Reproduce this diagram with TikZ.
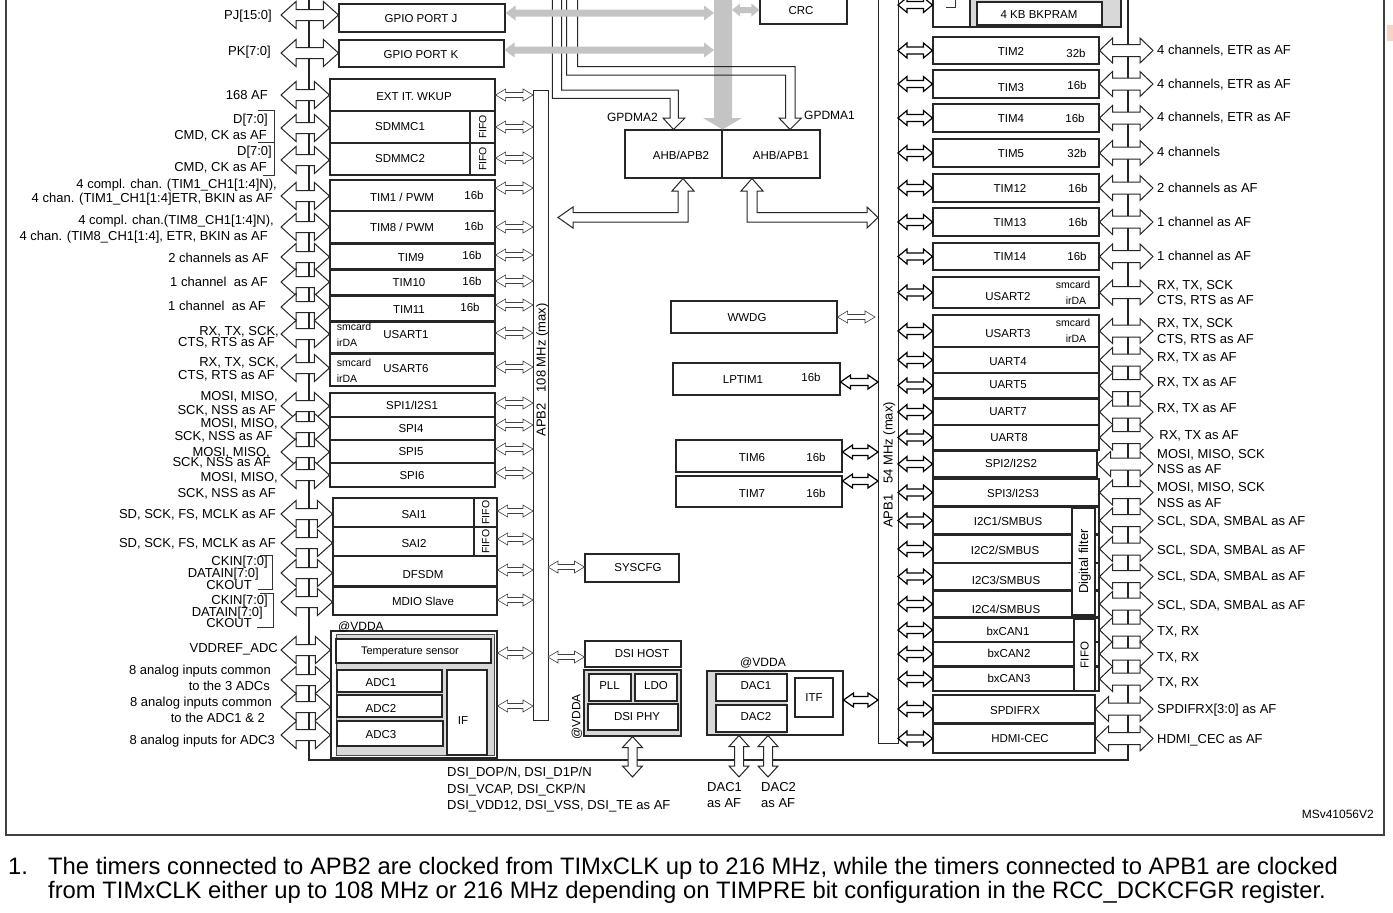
\documentclass[tikz,border=0pt]{standalone}
\usepackage{fontspec}
\setmainfont{Liberation Sans}
\usetikzlibrary{calc,positioning}

\definecolor{busgray}{HTML}{C4C4C4}
\definecolor{boxgray}{HTML}{D8D8D8}
\definecolor{markorange}{HTML}{F8D4C4}

\newcommand\lblfont{\fontsize{13}{14}\selectfont}
\newcommand\blkfont{\fontsize{11.5}{12}\selectfont}
\newcommand\midfont{\fontsize{12}{13}\selectfont}
\newcommand\smlfont{\fontsize{10.5}{11}\selectfont}
\newcommand\notefont{\fontsize{23.8}{25}\selectfont}

% a block given by its corners (picture units are pixels of the scan)
\newcommand\blk[6][]{%
  \node[blk,minimum width={((#5)-(#3))*1pt},minimum height={((#6)-(#4))*1pt},#1]
    (#2) at ({((#3)+(#5))/2},{((#4)+(#6))/2}) {};}

% hollow double arrow, left end (gives the height) to right end
% #4 head length, #5 half head, #6 half shaft
\newcommand\hdarr[6][]{%
  \path[#1] let \p1=(#2), \p2=(#3) in
    (\x1,\y1) -- (\x1+#4pt,\y1+#5pt) -- (\x1+#4pt,\y1+#6pt) -- (\x2-#4pt,\y1+#6pt)
    -- (\x2-#4pt,\y1+#5pt) -- (\x2,\y1) -- (\x2-#4pt,\y1-#5pt) -- (\x2-#4pt,\y1-#6pt)
    -- (\x1+#4pt,\y1-#6pt) -- (\x1+#4pt,\y1-#5pt) -- cycle;}
% same, upper end (gives the column) to lower end
\newcommand\vdarr[6][]{%
  \path[#1] let \p1=(#2), \p2=(#3) in
    (\x1,\y1) -- (\x1+#5pt,\y1-#4pt) -- (\x1+#6pt,\y1-#4pt) -- (\x1+#6pt,\y2+#4pt)
    -- (\x1+#5pt,\y2+#4pt) -- (\x1,\y2) -- (\x1-#5pt,\y2+#4pt) -- (\x1-#6pt,\y2+#4pt)
    -- (\x1-#6pt,\y1-#4pt) -- (\x1-#5pt,\y1-#4pt) -- cycle;}

\begin{document}
\begin{tikzpicture}[x=1pt,y=-1pt,line join=miter,
    blk/.style={draw=black!85,line width=1.1pt,fill=white,inner sep=0pt},
    gblk/.style={fill=boxgray},
    txt/.style={inner sep=0pt,font=\blkfont,text height=8.2pt,text depth=0pt},
    sml/.style={inner sep=0pt,font=\smlfont,text height=7.5pt,text depth=0pt},
    mid/.style={inner sep=0pt,font=\midfont,text height=8.6pt,text depth=0pt},
    lbl/.style={inner sep=0pt,font=\lblfont,text height=9.3pt,text depth=0pt},
    lbll/.style={lbl,anchor=east},
    lblr/.style={lbl,anchor=west},
    note/.style={inner sep=0pt,font=\notefont,anchor=base west},
    bigarr/.style={draw=black!85,line width=1pt,fill=white},
    thinarr/.style={draw=black!75,line width=.6pt,fill=white},
    boldarr/.style={draw=black,line width=1.2pt,fill=white},
    grayarr/.style={fill=busgray},
    bus/.style={draw=black!85,line width=1.8pt},
    dline/.style={draw=black!85,line width=1pt},
    brk/.style={draw=black!80,line width=.7pt},
    pageframe/.style={draw=black!75,line width=1.3pt},
  ]
\useasboundingbox (0,0) rectangle (1393,913);
\clip (0,0) rectangle (1393,913);
\fill[white] (0,0) rectangle (1393,913);

%------------------------------
% Frame, buses and bars
%------------------------------
\draw[pageframe] (6,-5) -- (6,835) -- (1384,835) -- (1384,-5);
\fill[markorange] (1387,25) rectangle (1393,41);
\draw[bus] (309,-5) -- (309,760) -- (1128,760) -- (1128,-5);
\blk[line width=.8pt]{apb2}{533}{90}{548}{720}
\blk[line width=.8pt]{apb1}{878}{-5}{898}{743}
\node[lbl,rotate=90] (apb2-t) at (541,370) {APB2\hspace{11pt}108 MHz (max)};
\node[lbl,rotate=90] (apb1-t) at (888,465) {APB1\hspace{11pt}54 MHz (max)};

%------------------------------
% AHB side: bridge, DMA, CRC
%------------------------------
\blk{ahb2}{625}{130}{722}{178}
\blk{ahb1}{722}{130}{820}{178}
\node[txt] (ahb2-t) at (681,155) {AHB/APB2};
\node[txt] (ahb1-t) at (781,155) {AHB/APB1};
\blk{crc}{760}{-5}{847}{24}
\node[txt] (crc-t) at (801,10) {CRC};

\fill[busgray] (714,-5) -- (714,118) -- (703,118) -- (ahb2.north east) -- (742,118) -- (732,118) -- (732,-5) -- cycle;

\coordinate (dma2tip) at (ahb2.north);
\coordinate (dma1tip) at ($(ahb1.north)+(19,0)$);
\draw[dline] (552.3,-5) |- (670,98.3) -- (670,118) -- (663,118) -- (dma2tip)
  -- (685,118) -- (678.3,118) |- (561.7,90) -- (561.7,-5);
\draw[dline] (566.7,-5) |- (785.7,75) -- (785.7,118) -- (779,118) -- (dma1tip)
  -- (801.5,118) -- (795,118) |- (577.7,66.7) -- (577.7,-5);
\node[mid,anchor=east] (dma2-t) at (658,117) {GPDMA2};
\node[mid,anchor=west] (dma1-t) at (804,115) {GPDMA1};

\coordinate (b2tip) at ($(ahb2.south)+(9.5,0)$);
\coordinate (b1tip) at ($(ahb1.south)+(-19,0)$);
\path[bigarr] (b2tip) -- (694,191) -- (688,191) -- (688,222) -- (573,222) -- (573,228)
  -- (558,217.5) -- (573,207) -- (573,212.5) -- (678,212.5) -- (678,191) -- (672,191) -- cycle;
\path[bigarr] (b1tip) -- (763,191) -- (757,191) -- (757,212.5) -- (867,212.5) -- (867,207)
  -- (878,217.5) -- (867,228) -- (867,222) -- (747,222) -- (747,191) -- (741,191) -- cycle;

%------------------------------
% Left column: GPIO and APB2 peripherals
%------------------------------
\foreach \nm/\xa/\ya/\xb/\yb/\t/\tx/\ty in {
    gpj/339/4/505/32/GPIO PORT J/421/18,
    gpk/339/40/504/67/GPIO PORT K/421/54,
    ext/330/79/495/111/EXT IT. WKUP/414/96,
    sd1/330/111/495/143/SDMMC1/400/126,
    sd2/330/143/495/175/SDMMC2/400/158,
    tim1/330/180/495/211/TIM1 \slash\ PWM/402/197,
    tim8/330/211/495/243/TIM8 \slash\ PWM/402/227,
    tim9/330/244/495/269/TIM9/411/257,
    tim10/330/270/495/295/TIM10/409/282,
    tim11/330/296/495/321/TIM11/409/309,
    usart1/330/322/495/353/USART1/406/334,
    usart6/330/354/495/386/USART6/406/368,
    spi1/330/393/495/417/SPI1\slash I2S1/412/405,
    spi4/330/417/495/440/SPI4/411/428,
    spi5/330/440/495/463/SPI5/411/451,
    spi6/330/463/495/487/SPI6/412/475,
    sai1/333/498/497/527/SAI1/414/514,
    sai2/333/527/497/556/SAI2/414/543,
    dfsdm/333/556/497/586/DFSDM/423/574,
    mdio/333/587/497/615/MDIO Slave/423/601%
  }{
    \blk{\nm}{\xa}{\ya}{\xb}{\yb}
    \node[txt] (\nm-t) at (\tx,\ty) {\t};
  }

\foreach \nm/\xa/\ya/\xb/\yb in {sd1/470/111/495/143, sd2/470/143/495/175,
    sai1/474/498/497/527, sai2/474/527/497/556}{
  \blk{\nm-f}{\xa}{\ya}{\xb}{\yb}
  \node[sml,rotate=90] (\nm-ft) at (\nm-f) {FIFO};
}
\foreach \nm/\x/\y in {tim1/474/195, tim8/474/226, tim9/472/255, tim10/472/281, tim11/470/307}
  \node[txt] (\nm-w) at (\x,\y) {16b};
\foreach \nm/\y in {usart1/327, usart6/363}{
  \node[sml] (\nm-s) at (354,\y) {smcard};
  \node[sml] (\nm-i) at (347,\y+16) {irDA};
}

% ADC group
\blk{adc}{331}{631}{497}{758}
\fill[boxgray,draw=black!70,line width=.6pt] (336,634) rectangle (494,755);
\blk{temp}{336}{639}{491}{663}
\blk{adc1}{337}{670}{442}{692}
\blk{adc2}{337}{695}{442}{717}
\blk{adc3}{337}{721}{443}{746}
\blk{adcif}{447}{670}{487}{755}
\node[sml,font=\fontsize{11}{12}\selectfont] (temp-t) at (410,651) {Temperature sensor};
\node[txt] (adc1-t) at (381,682) {ADC1};
\node[txt] (adc2-t) at (381,708) {ADC2};
\node[txt] (adc3-t) at (381,734) {ADC3};
\node[txt] (adcif-t) at (463,720) {IF};
\node[mid,anchor=west] (adc-v) at (338,626) {@VDDA};

% big arrows across the GPIO bus
\foreach \nm/\y in {gpj/15,gpk/53,ext/95,sd1/128,sd2/160,tim1/196,tim8/227,tim9/257,
    tim10/282,tim11/307,usart1/334,usart6/368,spi1/406,spi4/427,spi5/452,spi6/475,
    sai1/514,sai2/543,dfsdm/573,mdio/602}{
  \coordinate (\nm-a) at (281,\y);
  \hdarr[bigarr]{\nm-a}{\nm.west}{15}{13.5}{5.5}
}
\foreach \y [count=\i] in {650,680,707,735}{
  \coordinate (adc-a\i) at (281,\y);
  \hdarr[bigarr]{adc-a\i}{adc.west}{15}{13.5}{5.5}
}
% small arrows to APB2
\foreach \nm/\y in {ext/95,sd1/127,sd2/158,tim1/188,tim8/227,tim9/255,tim10/281,
    tim11/305,usart1/333,usart6/367,spi1/403,spi4/425,spi5/449,spi6/473,sai1/511,
    sai2/539,dfsdm/570,mdio/600}{
  \coordinate (\nm-b) at (533,\y);
  \hdarr[thinarr]{\nm.east |- \nm-b}{\nm-b}{10}{6}{2.5}
}
\coordinate (adc-b1) at (533,653);
\coordinate (adc-b2) at (533,706);
\hdarr[thinarr]{adc.east |- adc-b1}{adc-b1}{10}{6}{2.5}
\hdarr[thinarr]{adc.east |- adc-b2}{adc-b2}{10}{6}{2.5}

% gray AHB arrows
\coordinate (busj) at (714,13);
\coordinate (busk) at (714,50);
\coordinate (buscrc) at (732,10);
\hdarr[grayarr]{gpj.east |- busj}{busj}{10}{7.5}{3.5}
\hdarr[grayarr]{gpk.east |- busk}{busk}{10}{7.5}{3.5}
\hdarr[grayarr]{buscrc}{crc.west}{8}{6.5}{3}

% left labels
\foreach \x/\y/\t [count=\i] in {
    272/15/{PJ[15:0]}, 271/51/{PK[7:0]}, 268/95/{168 AF},
    268/119/{D[7:0]}, 267/135/{CMD, CK as AF}, 272/151/{D[7:0]}, 267/167/{CMD, CK as AF},
    277/184/{4 compl. chan. (TIM1\_CH1[1:4]N),}, 273/198/{4 chan. (TIM1\_CH1[1:4]ETR, BKIN as AF},
    274/220/{4 compl. chan.(TIM8\_CH1[1:4]N),}, 268/236/{4 chan. (TIM8\_CH1[1:4], ETR, BKIN as AF},
    269/258/{2 channels as AF}, 268/282/{1 channel~ as AF}, 266/306/{1 channel~ as AF},
    279/331/{RX, TX, SCK,}, 275/342/{CTS, RTS as AF}, 279/362/{RX, TX, SCK,}, 275/375/{CTS, RTS as AF},
    278/396/{MOSI, MISO,}, 276/410/{SCK, NSS as AF}, 278/423/{MOSI, MISO,}, 273/436/{SCK, NSS as AF},
    270/452/{MOSI, MISO,}, 271/462/{SCK, NSS as AF}, 278/477/{MOSI, MISO,}, 276/493/{SCK, NSS as AF},
    276/514/{SD, SCK, FS, MCLK as AF}, 276/543/{SD, SCK, FS, MCLK as AF},
    268/561/{CKIN[7:0]}, 259/573/{DATAIN[7:0]}, 252/585/{CKOUT},
    268/600/{CKIN[7:0]}, 263/612/{DATAIN[7:0]}, 252/623/{CKOUT},
    278/648/{VDDREF\_ADC}, 271/670/{8 analog inputs common}, 270/686/{to the 3 ADCs},
    272/702/{8 analog inputs common}, 265/718/{to the ADC1 \& 2}, 275/740/{8 analog inputs for ADC3}%
  }
  \node[lbll] (ll\i) at (\x,\y) {\t};

\draw[brk] (258,110) -| (274,142) -- (258,142);
\draw[brk] (274,142) -- (274,175) -- (263,175);
\draw[brk] (260,555) -| (272,589) -- (258,589);
\draw[brk] (260,593) -| (273,627) -- (257,627);

%------------------------------
% Middle: APB2 / APB1 blocks
%------------------------------
\blk{syscfg}{585}{554}{679}{582}
\node[txt] (syscfg-t) at (638,567) {SYSCFG};
\blk{wwdg}{671}{301}{837}{333}
\node[txt] (wwdg-t) at (747,317) {WWDG};
\blk{lptim}{673}{363}{840}{395}
\node[txt] (lptim-t) at (743,379) {LPTIM1};
\node[txt] (lptim-w) at (811,377) {16b};
\blk{tim6}{676}{440}{842}{472}
\node[txt] (tim6-t) at (752,457) {TIM6};
\node[txt] (tim6-w) at (816,457) {16b};
\blk{tim7}{676}{476}{842}{507}
\node[txt] (tim7-t) at (752,493) {TIM7};
\node[txt] (tim7-w) at (816,493) {16b};

% DSI
\blk{dsih}{585}{641}{681}{667}
\node[txt] (dsih-t) at (642,653) {DSI HOST};
\blk[gblk]{dsig}{584}{670}{681}{736}
\blk{pll}{589}{674}{631}{701}
\blk{ldo}{635}{674}{677}{701}
\blk{dsiphy}{588}{704}{678}{730}
\node[txt] (pll-t) at (609.5,685) {PLL};
\node[txt] (ldo-t) at (656,685) {LDO};
\node[txt] (dsiphy-t) at (637,716) {DSI PHY};
\node[mid,rotate=90] (dsi-v) at (576,717) {@VDDA};

% DAC
\blk{dacg}{707}{671}{843}{735}
\fill[boxgray] (707.6,671.6) rectangle (787,734.4);
\blk{dac1}{716}{674}{787}{701}
\blk{dac2}{716}{705}{787}{732}
\blk{itf}{795}{678}{833}{717}
\node[txt] (dac1-t) at (756,685) {DAC1};
\node[txt] (dac2-t) at (756,716) {DAC2};
\node[txt] (itf-t) at (814,697) {ITF};
\node[mid] (dac-v) at (763,662) {@VDDA};

\coordinate (wwdg-b) at (875,317);
\coordinate (lptim-b) at (878,382);
\coordinate (tim6-b) at (878,452);
\coordinate (tim7-b) at (878,481);
\coordinate (dacg-b) at (878,700);
\coordinate (syscfg-b) at (548,567);
\coordinate (dsih-b) at (548,657);
\hdarr[thinarr]{wwdg.east |- wwdg-b}{wwdg-b}{10}{6}{2.5}
\hdarr[boldarr]{lptim.east |- lptim-b}{lptim-b}{10}{7}{3.5}
\hdarr[boldarr]{tim6.east |- tim6-b}{tim6-b}{10}{7}{3.5}
\hdarr[boldarr]{tim7.east |- tim7-b}{tim7-b}{10}{7}{3.5}
\hdarr[boldarr]{dacg.east |- dacg-b}{dacg-b}{10}{7}{3.5}
\hdarr[thinarr]{syscfg-b}{syscfg.west}{10}{6}{2.5}
\hdarr[thinarr]{dsih-b}{dsih.west}{10}{6}{2.5}

\coordinate (dsi-o) at (632.5,777);
\coordinate (dac1-o) at (739,777);
\coordinate (dac2-o) at (768,777);
\vdarr[bigarr]{dsig.south}{dsi-o}{11}{10}{4.5}
\vdarr[bigarr]{dac1-o |- dacg.south}{dac1-o}{11}{10}{4.5}
\vdarr[bigarr]{dac2-o |- dacg.south}{dac2-o}{11}{10}{4.5}

\node[lblr] (dsi-l1) at (447,772) {DSI\_DOP/N, DSI\_D1P/N};
\node[lblr] (dsi-l2) at (447,789) {DSI\_VCAP, DSI\_CKP/N};
\node[lblr] (dsi-l3) at (447,805) {DSI\_VDD12, DSI\_VSS, DSI\_TE as AF};
\node[lblr] (dac1-l1) at (707,787) {DAC1};
\node[lblr] (dac1-l2) at (707,803) {as AF};
\node[lblr] (dac2-l1) at (761,787) {DAC2};
\node[lblr] (dac2-l2) at (761,803) {as AF};

%------------------------------
% Right column: APB1 peripherals
%------------------------------
\blk{bkw}{933}{-5}{970}{27}
\blk[gblk]{bkg}{970}{-5}{1121}{27}
\blk{bkp}{977}{2}{1102}{25}
\node[txt] (bkp-t) at (1039,14) {4 KB BKPRAM};
\draw[brk] (946,7) -- (955,7) -- (955,-5);
\coordinate (bkw-i) at (898,5);
\hdarr[boldarr]{bkw-i}{bkw.west}{9}{7.5}{3.5}

\foreach \nm/\ya/\yb/\xb/\t/\tx/\ty in {
    tim2/37/64/1099/TIM2/1011/51,
    tim3/70/98/1099/TIM3/1011/87,
    tim4/104/132/1099/TIM4/1011/118,
    tim5/139/167/1099/TIM5/1011/153,
    tim12/174/202/1099/TIM12/1010/188,
    tim13/208/236/1099/TIM13/1010/222,
    tim14/243/270/1099/TIM14/1010/256,
    usart2/277/308/1099/USART2/1008/296,
    usart3/315/347/1099/USART3/1008/333,
    uart4/347/373/1099/UART4/1008/361,
    uart5/373/398/1099/UART5/1008/384,
    uart7/399/425/1099/UART7/1008/411,
    uart8/425/450/1099/UART8/1009/437,
    spi2/451/477/1097/SPI2\slash I2S2/1011/463,
    spi3/479/506/1099/SPI3\slash I2S3/1013/493,
    i2c1/507/534/1099/I2C1\slash SMBUS/1008/521,
    i2c2/535/563/1099/I2C2\slash SMBUS/1005/550,
    i2c3/563/590/1099/I2C3\slash SMBUS/1006/580,
    i2c4/591/617/1099/I2C4\slash SMBUS/1006/609,
    can1/618/642/1099/bxCAN1/1008/631,
    can2/642/666/1099/bxCAN2/1009/653,
    can3/667/691/1099/bxCAN3/1009/678,
    spdif/695/723/1095/SPDIFRX/1015/710,
    cec/724/753/1095/HDMI-CEC/1020/738%
  }{
    \blk{\nm}{933}{\ya}{\xb}{\yb}
    \node[txt] (\nm-t) at (\tx,\ty) {\t};
    \coordinate (\nm-i) at (898,{(\ya+\yb)/2});
    \coordinate (\nm-o) at (1153,{(\ya+\yb)/2});
    \hdarr[boldarr]{\nm-i}{\nm.west}{9}{7.5}{3.5}
    \hdarr[bigarr]{\nm.east}{\nm-o}{13}{12.5}{6}
  }

\foreach \nm/\x/\y/\t in {tim2/1076/53/32b, tim3/1077/85/16b, tim4/1075/118/16b,
    tim5/1077/153/32b, tim12/1078/188/16b, tim13/1078/222/16b, tim14/1077/256/16b}
  \node[txt] (\nm-w) at (\x,\y) {\t};
\foreach \nm/\y in {usart2/285, usart3/323}{
  \node[sml] (\nm-s) at (1073,\y) {smcard};
  \node[sml] (\nm-r) at (1076,\y+16) {irDA};
}
\blk{dfilt}{1072}{508}{1095}{615}
\node[lbl,rotate=90] (dfilt-t) at (dfilt) {Digital filter};
\blk{canf}{1074}{619}{1095}{691}
\node[txt,rotate=90] (canf-t) at (canf) {FIFO};

\foreach \y/\t [count=\i] in {
    50/{4 channels, ETR as AF}, 84/{4 channels, ETR as AF}, 117/{4 channels, ETR as AF},
    152/{4 channels}, 188/{2 channels as AF}, 222/{1 channel as AF}, 256/{1 channel as AF},
    285/{RX, TX, SCK}, 300/{CTS, RTS as AF}, 323/{RX, TX, SCK}, 339/{CTS, RTS as AF},
    357/{RX, TX as AF}, 382/{RX, TX as AF}, 408/{RX, TX as AF}, 435/{\,RX, TX as AF},
    454/{MOSI, MISO, SCK}, 469/{NSS as AF}, 487/{MOSI, MISO, SCK}, 503/{NSS as AF},
    521/{SCL, SDA, SMBAL as AF}, 550/{SCL, SDA, SMBAL as AF},
    576/{SCL, SDA, SMBAL as AF}, 605/{SCL, SDA, SMBAL as AF},
    631/{TX, RX}, 657/{TX, RX}, 682/{TX, RX},
    709/{SPDIFRX[3:0] as AF}, 739/{HDMI\_CEC as AF}%
  }
  \node[lblr] (lr\i) at (1157,\y) {\t};

%------------------------------
% Reference and note
%------------------------------
\node[mid,anchor=east] (msv) at (1374,814) {MSv41056V2};
\node[note] (fn-n) at (8,874) {1.};
\node[note] (fn-a) at (48,874) {The timers connected to APB2 are clocked from TIMxCLK up to 216 MHz, while the timers connected to APB1 are clocked};
\node[note] (fn-b) at (48,898) {from TIMxCLK either up to 108 MHz or 216 MHz depending on TIMPRE bit configuration in the RCC\_DCKCFGR register.};
\end{tikzpicture}
\end{document}
